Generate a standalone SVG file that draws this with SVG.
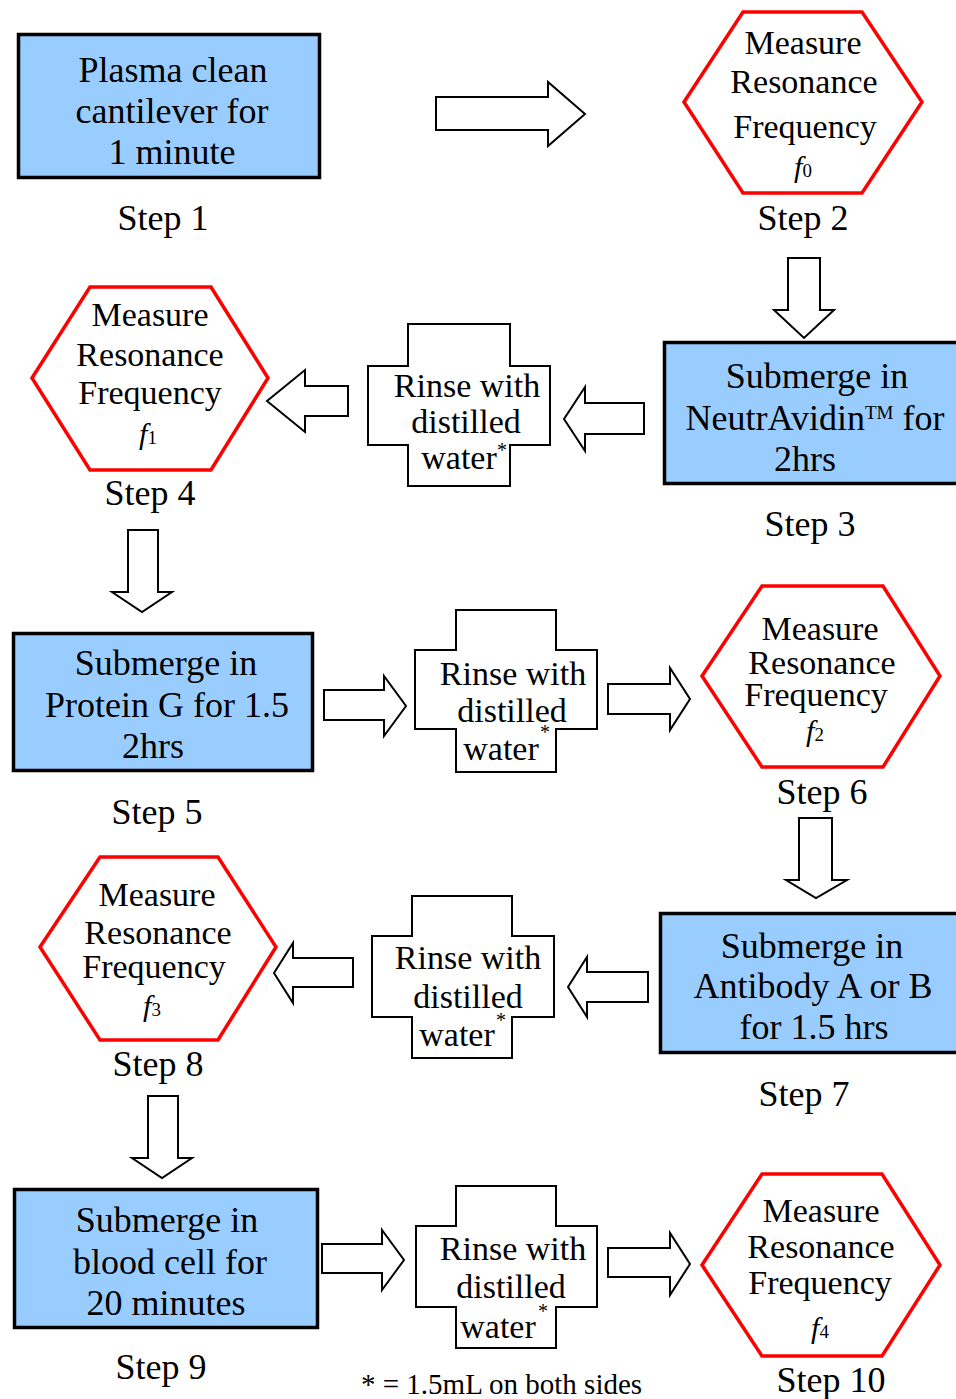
<svg xmlns="http://www.w3.org/2000/svg" width="956" height="1399" viewBox="0 0 956 1399">
<style>
text{font-family:"Liberation Serif","Times New Roman",serif;fill:#000;text-anchor:middle}
.box{fill:#99CCFF;stroke:#000;stroke-width:3.5}
.hex{fill:#fff;stroke:#FF0000;stroke-width:3.5;stroke-linejoin:miter}
.rinse{fill:#fff;stroke:#000;stroke-width:2}
.arrow{fill:#fff;stroke:#000;stroke-width:2}
.t{font-size:36px}
.h{font-size:34px}
.r{font-size:34px}
.st{font-size:36px}
.f{font-style:italic;font-size:30px}
.sub{font-size:19px}
.ast{font-size:20px}
</style>
<rect width="956" height="1399" fill="#fff"/>

<g id="step1">
<rect class="box" x="18.5" y="34.5" width="301" height="143"/>
<text class="t" x="173" y="82">Plasma clean</text>
<text class="t" x="172" y="123">cantilever for</text>
<text class="t" x="172" y="164">1 minute</text>
<text class="st" x="163" y="230">Step 1</text>
</g>

<g id="step2">
<polygon class="hex" points="684,102 743,12 862,12 922,102 862,193 743,193"/>
<text class="h" x="803" y="54">Measure</text>
<text class="h" x="804" y="93">Resonance</text>
<text class="h" x="805" y="138">Frequency</text>
<text x="803" y="177"><tspan class="f">f</tspan><tspan class="sub">0</tspan></text>
<text class="st" x="803" y="230">Step 2</text>
</g>

<g id="step3">
<rect class="box" x="664.5" y="342.5" width="300" height="141"/>
<text class="t" x="817" y="388">Submerge in</text>
<text class="t" x="815" y="430">NeutrAvidin<tspan font-size="19" dy="-11">TM</tspan><tspan dy="11"> for</tspan></text>
<text class="t" x="805" y="471">2hrs</text>
<text class="st" x="810" y="536">Step 3</text>
</g>

<g id="rinse1">
<polygon class="rinse" points="408,324 510,324 510,366 550,366 550,445 510,445 510,486 408,486 408,445 368,445 368,366 408,366"/>
<text class="r" x="467" y="397">Rinse with</text>
<text class="r" x="466" y="433">distilled</text>
<text class="r" x="459" y="469">water</text>
<text class="ast" x="502" y="457">*</text>
</g>

<g id="step4">
<polygon class="hex" points="32,378 90,287 211,287 268,378 211,470 90,470"/>
<text class="h" x="150" y="326">Measure</text>
<text class="h" x="150" y="366">Resonance</text>
<text class="h" x="150" y="404">Frequency</text>
<text x="148" y="444"><tspan class="f">f</tspan><tspan class="sub">1</tspan></text>
<text class="st" x="150" y="505">Step 4</text>
</g>

<g id="step5">
<rect class="box" x="13.5" y="633.5" width="299" height="137"/>
<text class="t" x="166" y="675">Submerge in</text>
<text class="t" x="167" y="717">Protein G for 1.5</text>
<text class="t" x="153" y="758">2hrs</text>
<text class="st" x="157" y="824">Step 5</text>
</g>

<g id="rinse2">
<polygon class="rinse" points="456,610 556,610 556,650 597,650 597,729 556,729 556,772 456,772 456,729 415,729 415,650 456,650"/>
<text class="r" x="513" y="685">Rinse with</text>
<text class="r" x="512" y="722">distilled</text>
<text class="r" x="501" y="760">water</text>
<text class="ast" x="545" y="739">*</text>
</g>

<g id="step6">
<polygon class="hex" points="702,676 762,586 883,586 940,676 883,767 762,767"/>
<text class="h" x="820" y="640">Measure</text>
<text class="h" x="822" y="674">Resonance</text>
<text class="h" x="816" y="706">Frequency</text>
<text x="815" y="741"><tspan class="f">f</tspan><tspan class="sub">2</tspan></text>
<text class="st" x="822" y="804">Step 6</text>
</g>

<g id="step7">
<rect class="box" x="660.5" y="913.5" width="300" height="139"/>
<text class="t" x="812" y="958">Submerge in</text>
<text class="t" x="813" y="998">Antibody A or B</text>
<text class="t" x="814" y="1039">for 1.5 hrs</text>
<text class="st" x="804" y="1106">Step 7</text>
</g>

<g id="rinse3">
<polygon class="rinse" points="412,896 512,896 512,936 554,936 554,1017 512,1017 512,1058 412,1058 412,1017 372,1017 372,936 412,936"/>
<text class="r" x="468" y="969">Rinse with</text>
<text class="r" x="468" y="1008">distilled</text>
<text class="r" x="457" y="1046">water</text>
<text class="ast" x="501" y="1027">*</text>
</g>

<g id="step8">
<polygon class="hex" points="40,947 100,857 218,857 276,947 218,1040 100,1040"/>
<text class="h" x="157" y="906">Measure</text>
<text class="h" x="158" y="944">Resonance</text>
<text class="h" x="154" y="978">Frequency</text>
<text x="152" y="1016"><tspan class="f">f</tspan><tspan class="sub">3</tspan></text>
<text class="st" x="158" y="1076">Step 8</text>
</g>

<g id="step9">
<rect class="box" x="14.5" y="1189.5" width="303" height="138"/>
<text class="t" x="167" y="1232">Submerge in</text>
<text class="t" x="170" y="1274">blood cell for</text>
<text class="t" x="166" y="1315">20 minutes</text>
<text class="st" x="161" y="1379">Step 9</text>
</g>

<g id="rinse4">
<polygon class="rinse" points="456,1186 556,1186 556,1226 597,1226 597,1307 556,1307 556,1348 456,1348 456,1307 416,1307 416,1226 456,1226"/>
<text class="r" x="513" y="1260">Rinse with</text>
<text class="r" x="511" y="1298">distilled</text>
<text class="r" x="498" y="1338">water</text>
<text class="ast" x="543" y="1318">*</text>
</g>

<g id="step10">
<polygon class="hex" points="702,1265 762,1174 882,1174 940,1265 882,1356 762,1356"/>
<text class="h" x="821" y="1222">Measure</text>
<text class="h" x="821" y="1258">Resonance</text>
<text class="h" x="820" y="1294">Frequency</text>
<text x="820" y="1338"><tspan class="f">f</tspan><tspan class="sub">4</tspan></text>
<text class="st" x="831" y="1392">Step 10</text>
</g>

<g id="footnote">
<text x="361" y="1394" font-size="29" style="text-anchor:start">* = 1.5mL on both sides</text>
</g>

<g id="connectors">
<polygon class="arrow" points="436,97 548,97 548,82 585,114 548,146 548,130 436,130"/>
<polygon class="arrow" points="788,258 820,258 820,310 834,310 804,338 774,310 788,310"/>
<polygon class="arrow" points="644,403 585,403 585,387 564,419 585,451 585,434 644,434"/>
<polygon class="arrow" points="348,386 305,386 305,370 267,401 305,432 305,416 348,416"/>
<polygon class="arrow" points="128,530 158,530 158,592 172,592 142,612 112,592 128,592"/>
<polygon class="arrow" points="324,690 384,690 384,676 406,706 384,736 384,720 324,720"/>
<polygon class="arrow" points="608,684 670,684 670,668 690,699 670,730 670,714 608,714"/>
<polygon class="arrow" points="799,818 832,818 832,880 847,880 816,898 786,880 799,880"/>
<polygon class="arrow" points="648,972 587,972 587,957 568,987 587,1017 587,1002 648,1002"/>
<polygon class="arrow" points="353,958 293,958 293,943 274,973 293,1003 293,987 353,987"/>
<polygon class="arrow" points="148,1096 178,1096 178,1158 192,1158 162,1178 132,1158 148,1158"/>
<polygon class="arrow" points="322,1244 382,1244 382,1230 404,1260 382,1290 382,1273 322,1273"/>
<polygon class="arrow" points="608,1248 670,1248 670,1233 690,1264 670,1295 670,1277 608,1277"/>
</g>
</svg>
